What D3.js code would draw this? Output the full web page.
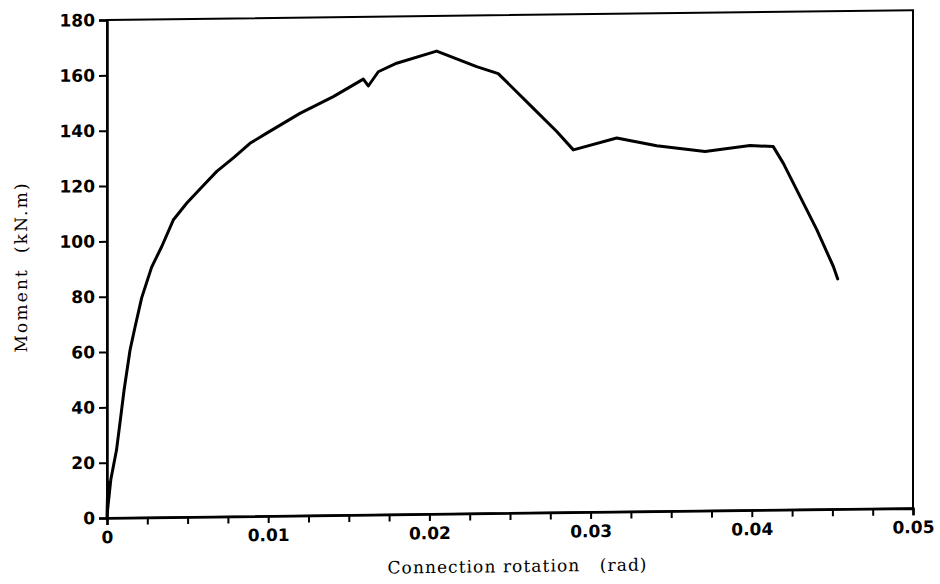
<!DOCTYPE html>
<html>
<head>
<meta charset="utf-8">
<script src="https://cdn.jsdelivr.net/npm/d3@7"></script>
<style>
  html, body { margin: 0; padding: 0; background: #fff; }
  svg { display: block; }
</style>
</head>
<body>
<svg id="chart" width="940" height="584"></svg>
<script>
// ---- data ----
const rotation = [0, 0.00005, 0.00002, 0.00024, 0.00059, 0.00085, 0.00106, 0.00143, 0.00174, 0.00215,
  0.00277, 0.00339, 0.00411, 0.00494, 0.00577, 0.00681, 0.00784, 0.00887, 0.00991, 0.01197,
  0.01404, 0.0159, 0.01621, 0.01683, 0.01797, 0.02045, 0.02293, 0.02427, 0.02645, 0.0279,
  0.02893, 0.03162, 0.0341, 0.0371, 0.03989, 0.04133, 0.04195, 0.04403, 0.04506, 0.04533];
const moment = [0, 13.0, 2.0, 14.0, 24.5, 36.4, 46.2, 60.6, 68.9, 79.4,
  90.5, 97.8, 107.4, 113.4, 118.5, 124.8, 129.6, 134.8, 138.4, 145.4,
  151.3, 157.5, 155.0, 160.1, 163.1, 167.3, 161.5, 158.9, 146.2, 137.7,
  131.0, 135.1, 132.1, 129.8, 131.8, 131.3, 125.3, 101.1, 87.7, 83.2];

const xMajorTicks = [0, 0.01, 0.02, 0.03, 0.04, 0.05];
const xTickLabels = ["0", "0.01", "0.02", "0.03", "0.04", "0.05"];
const xMinorTicks = [0.0025, 0.005, 0.0075, 0.0125, 0.015, 0.0175, 0.0225, 0.025, 0.0275,
  0.0325, 0.035, 0.0375, 0.0425, 0.045, 0.0475];
const yTicks = [0, 20, 40, 60, 80, 100, 120, 140, 160, 180];
const xTitle = "Connection rotation\u00a0\u00a0\u00a0(rad)";
const yTitle = "Moment\u00a0\u00a0(kN.m)";

// ---- layout ----
const L = 107, R = 913, T = 20, B = 518;
const skew = 0.0122; // slight scan skew of the original

const svg = d3.select("#chart");
const g = svg.append("g")
  .attr("transform", `matrix(1,${-skew},0,1,0,${skew * L})`);

const x = d3.scaleLinear().domain([0, 0.05]).range([L, R]);
const y = d3.scaleLinear().domain([0, 180]).range([B, T]);

const tickFont = "'DejaVu Sans', sans-serif";
const titleFont = "'DejaVu Serif', serif";

// frame
g.append("rect")
  .attr("x", L).attr("y", T).attr("width", R - L).attr("height", B - T)
  .attr("fill", "none").attr("stroke", "#000").attr("stroke-width", 2);

// x axis
const xAxis = d3.axisBottom(x).tickValues(xMajorTicks)
  .tickFormat((d, i) => xTickLabels[i]).tickSize(7).tickPadding(6);
const gx = g.append("g").attr("transform", `translate(0,${B})`).call(xAxis);
gx.select(".domain").attr("stroke-width", 2.5);
gx.selectAll(".tick line").attr("stroke-width", 2);
gx.selectAll(".tick text")
  .attr("font-family", tickFont).attr("font-weight", "bold")
  .attr("font-size", 17).attr("fill", "#000");

const xMinor = d3.axisBottom(x).tickValues(xMinorTicks).tickSize(7).tickFormat("");
const gxm = g.append("g").attr("transform", `translate(0,${B})`).call(xMinor);
gxm.select(".domain").remove();
gxm.selectAll(".tick line").attr("stroke-width", 2);

// y axis
const yAxis = d3.axisLeft(y).tickValues(yTicks).tickSize(8).tickPadding(4);
const gy = g.append("g").attr("transform", `translate(${L},0)`).call(yAxis);
gy.select(".domain").attr("stroke-width", 2.5);
gy.selectAll(".tick line").attr("stroke-width", 2);
gy.selectAll(".tick text")
  .attr("font-family", tickFont).attr("font-weight", "bold")
  .attr("font-size", 17).attr("fill", "#000");

// titles
g.append("text")
  .attr("x", 517).attr("y", 577)
  .attr("text-anchor", "middle")
  .attr("font-family", titleFont).attr("font-size", 17)
  .attr("textLength", 259).attr("lengthAdjust", "spacing")
  .text(xTitle);

g.append("text")
  .attr("transform", "translate(27,267) rotate(-90)")
  .attr("text-anchor", "middle")
  .attr("font-family", titleFont).attr("font-size", 17)
  .attr("textLength", 169).attr("lengthAdjust", "spacing")
  .text(yTitle);

// curve
const pts = rotation.map((r, i) => [r, moment[i]]);
g.append("path")
  .datum(pts)
  .attr("fill", "none").attr("stroke", "#000").attr("stroke-width", 3)
  .attr("stroke-linejoin", "round").attr("stroke-linecap", "round")
  .attr("d", d3.line().x(d => x(d[0])).y(d => y(d[1])));
</script>
</body>
</html>
